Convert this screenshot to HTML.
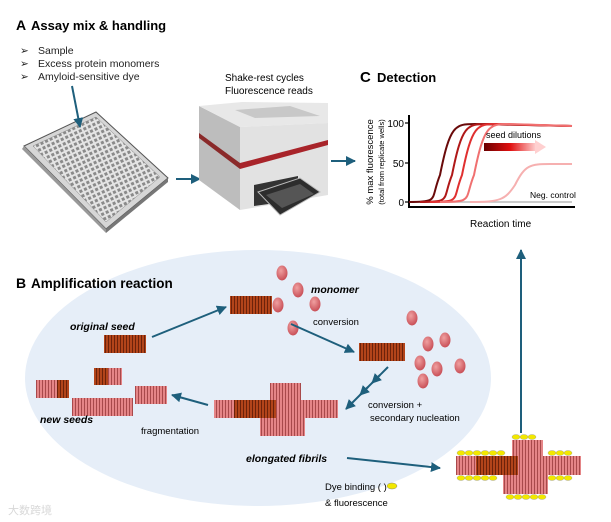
<!DOCTYPE html>
<html><head><meta charset="utf-8"><style>
body{margin:0;background:#fff}
svg{display:block;font-family:"Liberation Sans",sans-serif}
</style></head><body>
<svg width="611" height="522" viewBox="0 0 611 522" xmlns="http://www.w3.org/2000/svg">
<defs>
<pattern id="pk" width="3" height="10" patternUnits="userSpaceOnUse"><rect width="3" height="10" fill="#e58587"/><rect width="0.8" height="10" fill="#9a3a3c"/></pattern>
<pattern id="dk" width="3" height="10" patternUnits="userSpaceOnUse"><rect width="3" height="10" fill="#b2441a"/><rect width="0.8" height="10" fill="#5a1a06"/></pattern>
<pattern id="wells" width="5" height="5" patternUnits="userSpaceOnUse" patternTransform="rotate(-25)"><rect width="5" height="5" fill="#e4e4e4"/><rect x="1" y="1" width="3" height="3" fill="#8a8a8a"/></pattern>
<marker id="ah" viewBox="0 0 10 10" refX="9" refY="5" markerWidth="5" markerHeight="5" orient="auto"><path d="M0,0L10,5L0,10z" fill="#1e5f7c"/></marker>
<radialGradient id="mono" cx="40%" cy="35%" r="65%"><stop offset="0" stop-color="#f0a0a0"/><stop offset="1" stop-color="#c95058"/></radialGradient>
<linearGradient id="sd" x1="0" x2="1"><stop offset="0" stop-color="#6a0000"/><stop offset="0.5" stop-color="#e01010"/><stop offset="1" stop-color="#ffd0d0"/></linearGradient>
</defs>

<ellipse cx="258" cy="378" rx="233" ry="128" fill="#e6eef8"/>

<text x="16" y="30" font-size="14" font-weight="bold">A</text>
<text x="31" y="30" font-size="13" font-weight="bold">Assay mix &amp; handling</text>
<g font-size="10.5" fill="#222">
<text x="20" y="54">➢</text><text x="38" y="54">Sample</text>
<text x="20" y="67">➢</text><text x="38" y="67">Excess protein monomers</text>
<text x="20" y="80">➢</text><text x="38" y="80">Amyloid-sensitive dye</text>
</g>
<polygon points="24,146 96,112 168,178 106,229" fill="#d6d6d6" stroke="#555" stroke-width="1"/>
<polygon points="24,146 106,229 106,233 22,149" fill="#999"/>
<polygon points="106,229 168,178 168,182 106,233" fill="#777"/>
<polygon points="33,146 96,117 160,177 106,222" fill="url(#wells)" stroke="#888" stroke-width="0.5"/>
<line x1="72" y1="86" x2="80" y2="127" stroke="#1e5f7c" stroke-width="2" marker-end="url(#ah)"/>
<line x1="176" y1="179" x2="200" y2="179" stroke="#1e5f7c" stroke-width="2" marker-end="url(#ah)"/>

<text x="225" y="81" font-size="10">Shake-rest cycles</text>
<text x="225" y="94" font-size="10">Fluorescence reads</text>
<polygon points="199,106 240,127 240,210 199,180" fill="#bdbdbd"/>
<polygon points="199,106 242,102 328,103 328,123 240,127" fill="#e8e8e8"/>
<polygon points="235,110 290,106 320,116 255,118" fill="#c8c8c8"/>
<polygon points="240,127 328,123 328,195 240,210" fill="#e2e2e2"/>
<polygon points="240,163 328,140 328,145 240,169" fill="#a8242a"/>
<polygon points="199,133 240,163 240,169 199,138" fill="#8a2a2a"/>
<polygon points="254,185 298,176 298,200 254,206" fill="#333"/>
<polygon points="258,192 300,178 320,192 280,215" fill="#2d2d2d" stroke="#bbb" stroke-width="1"/>
<polygon points="266,195 300,184 314,194 282,208" fill="#555"/>
<line x1="331" y1="161" x2="355" y2="161" stroke="#1e5f7c" stroke-width="2" marker-end="url(#ah)"/>

<text x="360" y="82" font-size="15" font-weight="bold">C</text>
<text x="377" y="82" font-size="13" font-weight="bold">Detection</text>
<line x1="409" y1="115" x2="409" y2="207" stroke="#000" stroke-width="2"/>
<line x1="408" y1="207" x2="575" y2="207" stroke="#000" stroke-width="2"/>
<g font-size="10" text-anchor="end"><text x="404" y="127">100</text><text x="404" y="167">50</text><text x="404" y="206">0</text></g>
<g stroke="#000" stroke-width="1.2"><line x1="405" y1="123" x2="409" y2="123"/><line x1="405" y1="163" x2="409" y2="163"/><line x1="405" y1="202" x2="409" y2="202"/></g>
<text transform="translate(373,162) rotate(-90)" font-size="9.5" text-anchor="middle">% max fluorescence</text>
<text transform="translate(384,162) rotate(-90)" font-size="7.5" text-anchor="middle">(total from replicate wells)</text>
<line x1="409" y1="202" x2="572" y2="202" stroke="#bbb" stroke-width="1.5"/>
<g fill="none" stroke-width="2">
<path d="M409,202 C440,202 430,200 440,175 C450,125 455,124 475,124 L572,126" stroke="#6a0a0a"/>
<path d="M420,202 C452,202 442,200 452,175 C462,125 467,124 487,124 L572,126" stroke="#b01818"/>
<path d="M430,202 C462,202 452,200 462,175 C472,125 477,124 497,124 L572,126" stroke="#e03030"/>
<path d="M440,202 C474,202 464,200 474,175 C484,125 489,124 509,124 L572,126" stroke="#f07070"/>
<path d="M470,202 C500,202 505,200 515,185 C525,165 530,164 550,164 L572,164" stroke="#f6b0b0"/>
</g>
<text x="486" y="138" font-size="9">seed dilutions</text>
<rect x="484" y="143" width="52" height="8" fill="url(#sd)"/>
<polygon points="535,140 546,147 535,154" fill="#ffd0d0"/>
<text x="530" y="198" font-size="8.5">Neg. control</text>
<text x="470" y="227" font-size="10">Reaction time</text>

<text x="16" y="288" font-size="14" font-weight="bold">B</text>
<text x="31" y="288" font-size="13.5" font-weight="bold">Amplification reaction</text>

<text x="70" y="330" font-size="10.5" font-weight="bold" font-style="italic">original seed</text>
<rect x="104" y="335" width="42" height="18" fill="url(#dk)"/>
<line x1="152" y1="337" x2="226" y2="307" stroke="#1e5f7c" stroke-width="2" marker-end="url(#ah)"/>
<rect x="230" y="296" width="42" height="18" fill="url(#dk)"/>
<g fill="url(#mono)">
<ellipse cx="278" cy="305" rx="5.5" ry="7.5"/>
<ellipse cx="282" cy="273" rx="5.5" ry="7.5"/><ellipse cx="298" cy="290" rx="5.5" ry="7.5"/>
<ellipse cx="315" cy="304" rx="5.5" ry="7.5"/><ellipse cx="293" cy="328" rx="5.5" ry="7.5"/>
<ellipse cx="412" cy="318" rx="5.5" ry="7.5"/><ellipse cx="428" cy="344" rx="5.5" ry="7.5"/>
<ellipse cx="445" cy="340" rx="5.5" ry="7.5"/><ellipse cx="420" cy="363" rx="5.5" ry="7.5"/>
<ellipse cx="437" cy="369" rx="5.5" ry="7.5"/><ellipse cx="460" cy="366" rx="5.5" ry="7.5"/>
<ellipse cx="423" cy="381" rx="5.5" ry="7.5"/>
</g>
<text x="311" y="293" font-size="10.5" font-weight="bold" font-style="italic">monomer</text>
<text x="313" y="325" font-size="9.5">conversion</text>
<line x1="291" y1="324" x2="354" y2="352" stroke="#1e5f7c" stroke-width="2" marker-end="url(#ah)"/>
<rect x="359" y="343" width="46" height="18" fill="url(#dk)"/>
<line x1="388" y1="367" x2="346" y2="409" stroke="#1e5f7c" stroke-width="2" marker-end="url(#ah)"/>
<line x1="380" y1="375" x2="372" y2="383" stroke="#1e5f7c" stroke-width="2" marker-end="url(#ah)"/>
<line x1="368" y1="387" x2="360" y2="395" stroke="#1e5f7c" stroke-width="2" marker-end="url(#ah)"/>
<text x="368" y="408" font-size="9.5">conversion +</text>
<text x="370" y="421" font-size="9.5">secondary nucleation</text>

<rect x="270" y="383" width="31" height="18" fill="url(#pk)"/>
<rect x="214" y="400" width="124" height="18" fill="url(#pk)"/>
<rect x="234" y="400" width="42" height="18" fill="url(#dk)"/>
<rect x="260" y="418" width="45" height="18" fill="url(#pk)"/>
<line x1="208" y1="405" x2="172" y2="395" stroke="#1e5f7c" stroke-width="2" marker-end="url(#ah)"/>
<text x="141" y="434" font-size="9.5">fragmentation</text>
<rect x="36" y="380" width="33" height="18" fill="url(#pk)"/><rect x="57" y="380" width="12" height="18" fill="url(#dk)"/>
<rect x="94" y="368" width="14" height="17" fill="url(#dk)"/><rect x="108" y="368" width="14" height="17" fill="url(#pk)"/>
<rect x="72" y="398" width="61" height="18" fill="url(#pk)"/>
<rect x="135" y="386" width="32" height="18" fill="url(#pk)"/>
<text x="40" y="423" font-size="10.5" font-weight="bold" font-style="italic">new seeds</text>
<text x="246" y="462" font-size="10.5" font-weight="bold" font-style="italic">elongated fibrils</text>
<line x1="347" y1="458" x2="440" y2="468" stroke="#1e5f7c" stroke-width="2" marker-end="url(#ah)"/>
<text x="325" y="490" font-size="9.5">Dye binding (   )</text>
<ellipse cx="392" cy="486" rx="5" ry="3" fill="#f2e800" stroke="#887" stroke-width="0.5"/>
<text x="325" y="506" font-size="9.5">&amp; fluorescence</text>

<rect x="512" y="440" width="31" height="16" fill="url(#pk)"/>
<rect x="456" y="456" width="125" height="19" fill="url(#pk)"/>
<rect x="476" y="456" width="42" height="19" fill="url(#dk)"/>
<rect x="503" y="475" width="45" height="19" fill="url(#pk)"/>
<g fill="#f2e800" stroke="#999" stroke-width="0.4">
<ellipse cx="516" cy="437" rx="4" ry="2.5"/><ellipse cx="524" cy="437" rx="4" ry="2.5"/><ellipse cx="532" cy="437" rx="4" ry="2.5"/>
<ellipse cx="461" cy="453" rx="4" ry="2.5"/><ellipse cx="469" cy="453" rx="4" ry="2.5"/><ellipse cx="477" cy="453" rx="4" ry="2.5"/><ellipse cx="485" cy="453" rx="4" ry="2.5"/><ellipse cx="493" cy="453" rx="4" ry="2.5"/><ellipse cx="501" cy="453" rx="4" ry="2.5"/>
<ellipse cx="552" cy="453" rx="4" ry="2.5"/><ellipse cx="560" cy="453" rx="4" ry="2.5"/><ellipse cx="568" cy="453" rx="4" ry="2.5"/>
<ellipse cx="461" cy="478" rx="4" ry="2.5"/><ellipse cx="469" cy="478" rx="4" ry="2.5"/><ellipse cx="477" cy="478" rx="4" ry="2.5"/><ellipse cx="485" cy="478" rx="4" ry="2.5"/><ellipse cx="493" cy="478" rx="4" ry="2.5"/>
<ellipse cx="552" cy="478" rx="4" ry="2.5"/><ellipse cx="560" cy="478" rx="4" ry="2.5"/><ellipse cx="568" cy="478" rx="4" ry="2.5"/>
<ellipse cx="510" cy="497" rx="4" ry="2.5"/><ellipse cx="518" cy="497" rx="4" ry="2.5"/><ellipse cx="526" cy="497" rx="4" ry="2.5"/><ellipse cx="534" cy="497" rx="4" ry="2.5"/><ellipse cx="542" cy="497" rx="4" ry="2.5"/>
</g>
<line x1="521" y1="433" x2="521" y2="250" stroke="#1e5f7c" stroke-width="2" marker-end="url(#ah)"/>
<text x="8" y="514" font-size="11" fill="#d8d8d8" font-family="'Liberation Sans','Noto Sans CJK SC',sans-serif">大数跨境</text>
</svg>
</body></html>
